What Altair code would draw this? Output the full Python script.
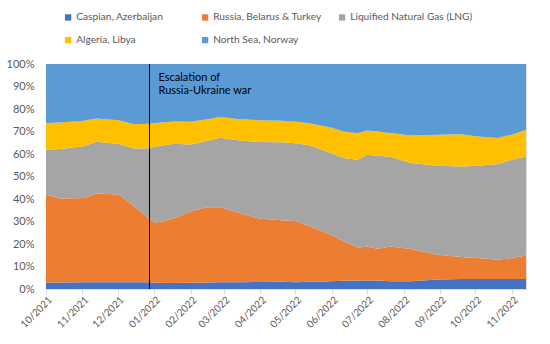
import altair as alt
import pandas as pd

dates = ["2021-10-01", "2021-10-13", "2021-11-02", "2021-11-13", "2021-12-02",
         "2021-12-15", "2021-12-27", "2022-01-02", "2022-01-18", "2022-02-01",
         "2022-02-15", "2022-02-26", "2022-03-15", "2022-03-31", "2022-04-19",
         "2022-05-01", "2022-05-14", "2022-05-31", "2022-06-11", "2022-06-23",
         "2022-07-01", "2022-07-10", "2022-07-21", "2022-08-07", "2022-08-30",
         "2022-09-19", "2022-10-03", "2022-10-20", "2022-11-01", "2022-11-13"]

caspian = [2.9, 2.9, 3.0, 3.0, 3.0, 3.0, 3.0, 2.8, 2.7, 2.8,
           2.9, 3.0, 3.0, 3.1, 3.2, 3.0, 3.2, 3.5, 3.7, 3.8,
           3.8, 3.8, 3.5, 3.4, 4.2, 4.4, 4.5, 4.5, 4.4, 4.4]
russia = [39.1, 37.3, 37.4, 39.5, 39.0, 33.7, 28.5, 26.5, 28.8, 31.7,
          33.4, 33.3, 30.8, 28.2, 27.4, 27.2, 24.6, 20.6, 17.5, 14.7,
          15.0, 14.1, 15.4, 14.4, 11.0, 9.8, 9.3, 8.5, 9.4, 10.5]
lng = [19.9, 22.0, 23.1, 23.0, 22.5, 25.8, 31.1, 33.9, 33.1, 29.7,
       29.5, 30.9, 32.2, 34.0, 34.6, 34.6, 36.0, 36.3, 37.0, 39.0,
       40.9, 41.3, 39.9, 38.2, 39.6, 40.3, 41.0, 42.6, 43.7, 44.0]
algeria = [11.9, 11.8, 11.3, 10.3, 10.5, 10.7, 10.8, 10.6, 9.9, 10.1,
           9.7, 9.3, 9.5, 9.7, 9.6, 9.7, 9.8, 11.4, 11.8, 11.8,
           10.7, 10.8, 10.5, 12.2, 13.8, 14.3, 13.0, 11.5, 11.1, 11.9]
north_sea = [26.2, 26.0, 25.2, 24.2, 25.0, 26.8, 26.6, 26.2, 25.5, 25.7,
             24.5, 23.5, 24.5, 25.0, 25.2, 25.5, 26.4, 28.2, 30.0, 30.7,
             29.6, 30.0, 30.7, 31.8, 31.4, 31.2, 32.2, 32.9, 31.4, 29.2]

series_names = ["Caspian, Azerbaijan", "Russia, Belarus & Turkey",
                "Liquified Natural Gas (LNG)", "Algeria, Libya", "North Sea, Norway"]
series_colors = ["#4472C4", "#ED7D31", "#A5A5A5", "#FFC000", "#5B9BD5"]
series_values = [caspian, russia, lng, algeria, north_sea]

event_date = ["2021-12-28"]
event_text = ["Escalation of", "Russia-Ukraine war"]

rows = []
for i, (name, vals) in enumerate(zip(series_names, series_values)):
    for d, v in zip(dates, vals):
        rows.append({"date": d, "series": name, "value": v, "idx": i})
df = pd.DataFrame(rows)

FONT = "Lato"
x_scale = alt.Scale(type="utc",
                    domain=[alt.DateTime(year=2021, month=10, date=1, utc=True),
                            alt.DateTime(year=2022, month=11, date=13, utc=True)])

area = alt.Chart(df).mark_area(interpolate="linear").encode(
    x=alt.X("date:T", scale=x_scale, title=None,
            axis=alt.Axis(format="%m/%Y", tickCount={"interval": "month", "step": 1},
                          labelAngle=315, labelAlign="right", labelBaseline="middle",
                          labelPadding=4, labelOffset=4, tickSize=5, tickColor="#d9d9d9",
                          domainColor="#d9d9d9", grid=False, labelFont=FONT,
                          labelFontSize=10, labelColor="#595959", labelOverlap=False)),
    y=alt.Y("value:Q", stack="normalize", title=None,
            scale=alt.Scale(domain=[0, 1], nice=False),
            axis=alt.Axis(format=".0%", values=[i / 10 for i in range(11)],
                          domain=False, ticks=False, labelPadding=12,
                          gridColor="#d9d9d9", labelFont=FONT, labelFontSize=11,
                          labelColor="#595959")),
    color=alt.Color("series:N",
                    scale=alt.Scale(domain=series_names, range=series_colors),
                    sort=series_names,
                    legend=alt.Legend(title=None, orient="none", legendX=17, legendY=-52,
                                      direction="horizontal", gridAlign="all",
                                      columns=3, symbolType="square", symbolSize=40,
                                      symbolStrokeWidth=0, labelFont=FONT,
                                      labelFontSize=10.2, labelColor="#595959",
                                      columnPadding=1, rowPadding=12, labelOffset=3)),
    order=alt.Order("idx:Q"),
)

ev = pd.DataFrame({"date": event_date})
rule = alt.Chart(ev).mark_rule(color="black", strokeWidth=1).encode(x="date:T")
label = alt.Chart(ev).mark_text(text=event_text, align="left", baseline="top", dx=9,
                                font=FONT, fontSize=11, lineHeight=13,
                                color="#000000").encode(x="date:T", y=alt.value(8))

chart = alt.layer(area, rule, label).properties(
    width=480, height=225,
    autosize=alt.AutoSizeParams(type="none"),
    padding={"left": 46, "top": 64, "right": 24, "bottom": 55},
).configure_view(stroke=None).configure(background="white")

chart.save("out.html", embed_options={"renderer": "svg", "actions": False})
